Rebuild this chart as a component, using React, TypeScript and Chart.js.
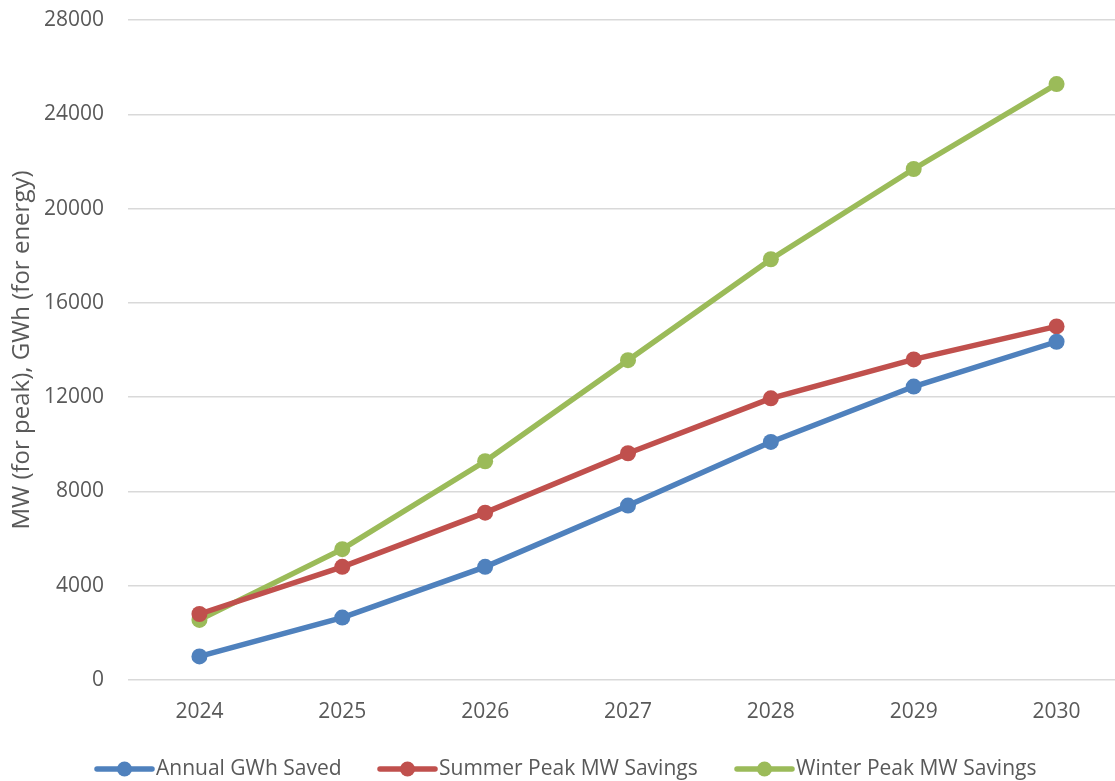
import React, { useEffect, useRef } from "react";
import { Chart, registerables } from "chart.js";

Chart.register(...registerables);

const years = ["2024", "2025", "2026", "2027", "2028", "2029", "2030"];
const annualGWhSaved = [1000, 2650, 4800, 7400, 10100, 12450, 14350];
const summerPeakMW = [2800, 4800, 7100, 9620, 11950, 13600, 15000];
const winterPeakMW = [2550, 5550, 9280, 13570, 17850, 21680, 25280];
const yTicks = [0, 4000, 8000, 12000, 16000, 20000, 24000, 28000];

const BLUE = "#4F81BD";
const RED = "#C0504D";
const GREEN = "#9BBB59";
const TEXT = "#595959";
const FONT = "'Open Sans', 'Liberation Sans', sans-serif";

// Legend drawn below the plot: a line sample with a dot in the middle, then the label.
const bottomLegend = {
  id: "bottomLegend",
  afterDraw(chart: any) {
    const ctx = chart.ctx;
    const items = [
      { x: 97, text: "Annual GWh Saved", color: BLUE },
      { x: 380, text: "Summer Peak MW Savings", color: RED },
      { x: 737, text: "Winter Peak MW Savings", color: GREEN },
    ];
    const y = 769;
    ctx.save();
    items.forEach((it) => {
      ctx.strokeStyle = it.color;
      ctx.lineWidth = 5.5;
      ctx.lineCap = "round";
      ctx.beginPath();
      ctx.moveTo(it.x, y);
      ctx.lineTo(it.x + 55, y);
      ctx.stroke();
      ctx.fillStyle = it.color;
      ctx.beginPath();
      ctx.arc(it.x + 27.5, y, 7.5, 0, Math.PI * 2);
      ctx.fill();
      ctx.fillStyle = TEXT;
      ctx.font = `21px ${FONT}`;
      ctx.textBaseline = "middle";
      ctx.textAlign = "left";
      ctx.fillText(it.text, it.x + 59, y);
    });
    ctx.restore();
  },
};

export default function App() {
  const ref = useRef<HTMLCanvasElement>(null);

  useEffect(() => {
    if (!ref.current) return;
    const mk = (label: string, data: number[], color: string) => ({
      label,
      data,
      borderColor: color,
      backgroundColor: color,
      borderWidth: 5.5,
      pointRadius: 8,
      pointHoverRadius: 8,
      pointBorderWidth: 0,
      tension: 0,
    });
    const chart = new Chart(ref.current, {
      type: "line",
      data: {
        labels: years,
        datasets: [
          mk("Annual GWh Saved", annualGWhSaved, BLUE),
          mk("Summer Peak MW Savings", summerPeakMW, RED),
          mk("Winter Peak MW Savings", winterPeakMW, GREEN),
        ],
      },
      options: {
        responsive: false,
        animation: false,
        layout: { padding: { top: 20, left: 0, right: 0, bottom: 0 } },
        plugins: {
          legend: { display: false },
          tooltip: { enabled: false },
        },
        scales: {
          x: {
            offset: true,
            grid: { display: false, drawTicks: false },
            border: { display: false },
            ticks: { color: TEXT, font: { size: 21, family: FONT }, padding: 19 },
            afterFit(scale: any) {
              scale.height = 101;
              scale.paddingLeft = 0;
              scale.paddingRight = 0;
            },
          },
          y: {
            min: 0,
            max: 28000,
            afterBuildTicks(scale: any) {
              scale.ticks = yTicks.map((v) => ({ value: v }));
            },
            grid: { color: "#d9d9d9", lineWidth: 1.5, drawTicks: false },
            border: { display: false },
            ticks: {
              color: TEXT,
              font: { size: 21, family: FONT },
              padding: 24,
              callback: (v: any) => String(v),
            },
            title: {
              display: true,
              text: "MW (for peak), GWh (for energy)",
              color: TEXT,
              font: { size: 24, family: FONT },
              padding: { top: 8, bottom: 0 },
            },
            afterFit(scale: any) {
              scale.width = 128;
              scale.paddingTop = 0;
              scale.paddingBottom = 0;
            },
          },
        },
      },
      plugins: [bottomLegend],
    });
    return () => chart.destroy();
  }, []);

  return (
    <div
      style={{
        position: "fixed",
        left: 0,
        top: 0,
        width: 1115,
        height: 781,
        overflow: "hidden",
        background: "#fff",
      }}
    >
      <canvas ref={ref} width={1136} height={781} style={{ display: "block" }} />
    </div>
  );
}
